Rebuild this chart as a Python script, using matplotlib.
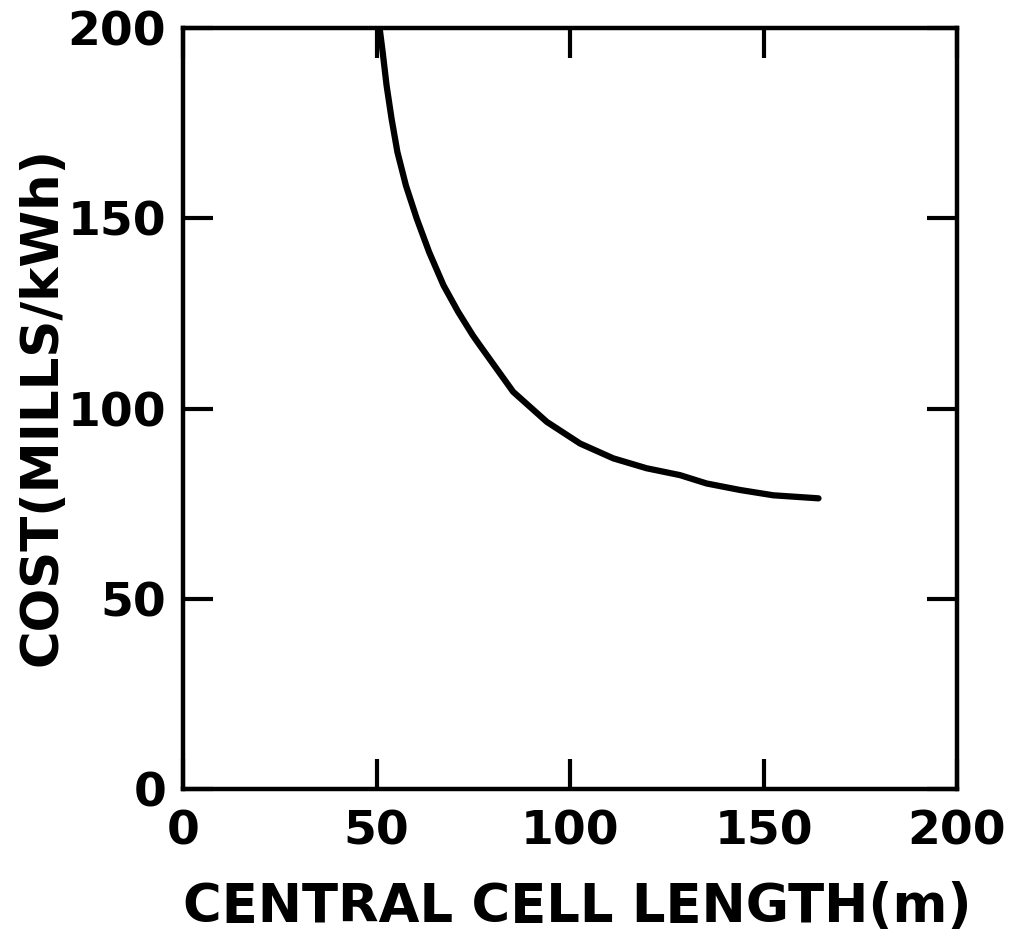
import matplotlib
matplotlib.use("Agg")
import matplotlib.pyplot as plt

# Data
length_m = [50.8, 51.6, 52.6, 53.9, 55.4, 57.6, 60.4, 63.6, 67.3, 71.1, 74.9,
            76.7, 85.3, 94.0, 102.6, 111.2, 119.8, 128.4, 135.3, 143.9, 152.5,
            164.2]
cost_mills = [200, 193.6, 184.9, 176.1, 167.4, 158.6, 149.9, 141.1, 132.4,
              125.4, 119.2, 116.6, 104.4, 96.5, 90.8, 86.9, 84.3, 82.5, 80.3,
              78.6, 77.2, 76.4]

x_ticks = [0, 50, 100, 150, 200]
y_ticks = [0, 50, 100, 150, 200]
x_label = "CENTRAL CELL LENGTH(m)"
y_label = "COST(MILLS/kWh)"

plt.rcParams['font.family'] = ['DejaVu Sans']
fig = plt.figure(figsize=(10.15, 9.34), dpi=100)
ax = fig.add_axes([0.1803, 0.1552, 0.7626, 0.8148])

ax.plot(length_m, cost_mills, color='black', lw=4.5, solid_capstyle='round',
        solid_joinstyle='round')

ax.set_xlim(0, 200)
ax.set_ylim(0, 200)
ax.set_xticks(x_ticks)
ax.set_yticks(y_ticks)
ax.set_xticklabels([str(v) for v in x_ticks])
ax.set_yticklabels([str(v) for v in y_ticks])

for s in ax.spines.values():
    s.set_linewidth(3.2)
    s.set_color('black')

ax.tick_params(axis='both', which='major', direction='in', length=21.5, width=3.0,
               top=True, right=True, labelsize=34, colors='black')
ax.tick_params(axis='x', pad=15)
ax.tick_params(axis='y', pad=12)
for lbl in ax.get_xticklabels() + ax.get_yticklabels():
    lbl.set_fontweight('bold')

fig.text(0.5685, 0.0128, x_label, ha='center', va='baseline', fontsize=38,
         fontweight='bold')
fig.text(0.042, 0.5643, y_label, ha='center', va='center', rotation=90,
         fontsize=37, fontweight='bold')

fig.savefig("out.png", dpi=100, facecolor='white')
